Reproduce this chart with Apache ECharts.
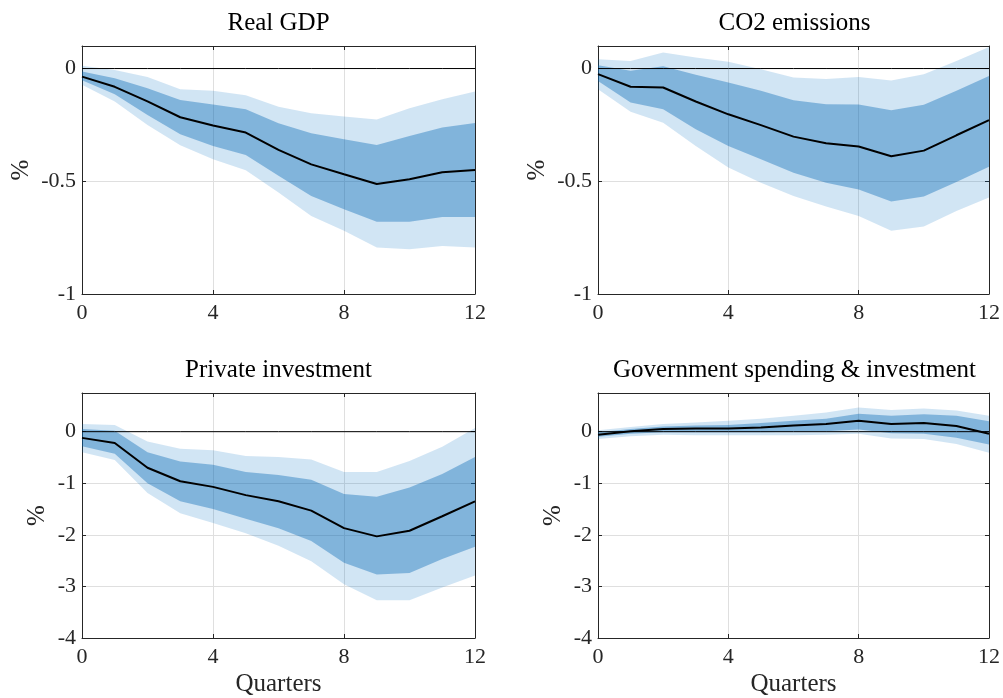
<!DOCTYPE html>
<html>
<head>
<meta charset="utf-8">
<script src="https://cdn.jsdelivr.net/npm/echarts@6/dist/echarts.min.js"></script>
<style>
  html, body { margin: 0; padding: 0; background: #ffffff; }
  #chart { width: 1003px; height: 698px; }
</style>
</head>
<body>
<div id="chart"></div>
<script>
// Horizon in quarters
const quarters = ['0', '1', '2', '3', '4', '5', '6', '7', '8', '9', '10', '11', '12'];

// Real GDP: median response with 68% (inner) and 90% (outer) bands
const gdpMedian     = [-0.036, -0.081, -0.146, -0.216, -0.253, -0.284, -0.361, -0.425, -0.469, -0.512, -0.491, -0.460, -0.450];
const gdpInnerUpper = [-0.013, -0.043, -0.087, -0.139, -0.160, -0.180, -0.243, -0.287, -0.314, -0.339, -0.299, -0.262, -0.241];
const gdpInnerLower = [-0.052, -0.114, -0.206, -0.291, -0.343, -0.383, -0.476, -0.565, -0.624, -0.680, -0.679, -0.658, -0.658];
const gdpOuterUpper = [ 0.012, -0.006, -0.037, -0.092, -0.099, -0.118, -0.170, -0.198, -0.213, -0.226, -0.176, -0.136, -0.102];
const gdpOuterLower = [-0.072, -0.146, -0.250, -0.340, -0.402, -0.451, -0.550, -0.654, -0.720, -0.794, -0.802, -0.787, -0.794];

// CO2 emissions
const co2Median     = [-0.025, -0.081, -0.084, -0.146, -0.203, -0.251, -0.302, -0.331, -0.346, -0.389, -0.364, -0.296, -0.229];
const co2InnerUpper = [ 0.015, -0.010,  0.010, -0.028, -0.062, -0.099, -0.141, -0.158, -0.160, -0.185, -0.161, -0.099, -0.033];
const co2InnerLower = [-0.055, -0.151, -0.180, -0.269, -0.343, -0.402, -0.462, -0.506, -0.536, -0.590, -0.568, -0.503, -0.436];
const co2OuterUpper = [ 0.041,  0.033,  0.071,  0.049,  0.030, -0.003, -0.040, -0.046, -0.037, -0.053, -0.025,  0.034,  0.096];
const co2OuterLower = [-0.092, -0.192, -0.240, -0.343, -0.439, -0.506, -0.565, -0.612, -0.654, -0.720, -0.701, -0.632, -0.572];

// Private investment
const invMedian     = [-0.12, -0.22, -0.70, -0.96, -1.07, -1.23, -1.35, -1.53, -1.87, -2.03, -1.92, -1.64, -1.35];
const invInnerUpper = [ 0.05,  0.02, -0.40, -0.58, -0.64, -0.78, -0.84, -0.93, -1.21, -1.26, -1.08, -0.82, -0.49];
const invInnerLower = [-0.28, -0.43, -1.00, -1.35, -1.50, -1.69, -1.87, -2.12, -2.54, -2.77, -2.74, -2.47, -2.23];
const invOuterUpper = [ 0.15,  0.13, -0.19, -0.33, -0.36, -0.47, -0.49, -0.54, -0.78, -0.78, -0.57, -0.29,  0.07];
const invOuterLower = [-0.40, -0.55, -1.19, -1.58, -1.77, -1.97, -2.21, -2.51, -2.96, -3.27, -3.27, -3.02, -2.79];

// Government spending & investment
const govMedian     = [-0.06,  0.01,  0.05,  0.06,  0.06,  0.08,  0.12,  0.15,  0.21,  0.15,  0.17,  0.11, -0.04];
const govInnerUpper = [-0.01,  0.05,  0.10,  0.12,  0.13,  0.17,  0.21,  0.25,  0.35,  0.31,  0.34,  0.31,  0.20];
const govInnerLower = [-0.10, -0.04, -0.01, -0.01, -0.01, -0.01,  0.00,  0.01,  0.04, -0.03, -0.04, -0.12, -0.25];
const govOuterUpper = [ 0.03,  0.09,  0.15,  0.18,  0.21,  0.25,  0.31,  0.37,  0.47,  0.42,  0.45,  0.41,  0.31];
const govOuterLower = [-0.14, -0.09, -0.06, -0.07, -0.07, -0.07, -0.07, -0.06, -0.04, -0.13, -0.14, -0.24, -0.41];

// Axis tick settings (x ticks every 4 quarters)
const xTickEvery = 4;
const yTicksTop = { min: -1, max: 0.1, step: 0.5 };
const yTicksBottom = { min: -4, max: 0.75, step: 1 };

const FONT = 'Liberation Serif';
const AXIS_COLOR = '#262626';
const GRID_COLOR = '#dfdfdf';
const OUTER_COLOR = 'rgba(0, 112, 192, 0.18)';
const INNER_COLOR = 'rgba(0, 100, 180, 0.38)';
const PLOT_W = 393, PLOT_H = 248;

const panels = [
  { title: 'Real GDP', left: 82, top: 46, y: yTicksTop, nameGap: 48, xName: '',
    median: gdpMedian, innerUpper: gdpInnerUpper, innerLower: gdpInnerLower, outerUpper: gdpOuterUpper, outerLower: gdpOuterLower },
  { title: 'CO2 emissions', left: 598, top: 46, y: yTicksTop, nameGap: 48, xName: '',
    median: co2Median, innerUpper: co2InnerUpper, innerLower: co2InnerLower, outerUpper: co2OuterUpper, outerLower: co2OuterLower },
  { title: 'Private investment', left: 82, top: 393, y: yTicksBottom, nameGap: 32, xName: 'Quarters',
    median: invMedian, innerUpper: invInnerUpper, innerLower: invInnerLower, outerUpper: invOuterUpper, outerLower: invOuterLower },
  { title: 'Government spending & investment', left: 598, top: 393, y: yTicksBottom, nameGap: 32, xName: 'Quarters',
    median: govMedian, innerUpper: govInnerUpper, innerLower: govInnerLower, outerUpper: govOuterUpper, outerLower: govOuterLower }
];

const diffs = (hi, lo) => hi.map((v, i) => v - lo[i]);
const everyFourth = (idx) => idx % xTickEvery === 0;

const option = {
  animation: false,
  backgroundColor: '#ffffff',
  title: [], grid: [], xAxis: [], yAxis: [], series: []
};

panels.forEach((p, k) => {
  option.grid.push({ left: p.left, top: p.top, width: PLOT_W, height: PLOT_H, containLabel: false });

  option.title.push({
    text: p.title, left: p.left + PLOT_W / 2, top: p.top - 35, textAlign: 'center', padding: 0,
    textStyle: { fontFamily: FONT, fontSize: 25, fontWeight: 'normal', color: '#000000' }
  });

  const lineStyle = { show: true, onZero: false, lineStyle: { color: AXIS_COLOR, width: 1 } };
  const xTick = { show: true, inside: true, length: 4, interval: everyFourth, lineStyle: { color: AXIS_COLOR, width: 1 } };
  const yTick = { show: true, inside: true, length: 4, lineStyle: { color: AXIS_COLOR, width: 1 } };

  // bottom x axis (labelled) and top x axis (ticks only)
  option.xAxis.push({
    gridIndex: k, type: 'category', data: quarters, boundaryGap: false, position: 'bottom',
    axisLine: lineStyle, axisTick: xTick,
    axisLabel: { show: true, interval: everyFourth, margin: 8, fontFamily: FONT, fontSize: 22, color: AXIS_COLOR },
    splitLine: { show: true, interval: everyFourth, lineStyle: { color: GRID_COLOR, width: 1 } },
    name: p.xName, nameLocation: 'middle', nameGap: 34,
    nameTextStyle: { fontFamily: FONT, fontSize: 25, color: AXIS_COLOR }
  });
  option.xAxis.push({
    gridIndex: k, type: 'category', data: quarters, boundaryGap: false, position: 'top',
    axisLine: lineStyle, axisTick: xTick, axisLabel: { show: false }, splitLine: { show: false }
  });

  // left y axis (labelled) and right y axis (ticks only)
  option.yAxis.push({
    gridIndex: k, type: 'value', position: 'left', min: p.y.min, max: p.y.max, interval: p.y.step,
    axisLine: lineStyle, axisTick: yTick,
    axisLabel: { show: true, margin: 6, fontFamily: FONT, fontSize: 22, color: AXIS_COLOR, showMaxLabel: false },
    splitLine: { show: true, lineStyle: { color: GRID_COLOR, width: 1 } },
    name: '%', nameLocation: 'middle', nameGap: p.nameGap,
    nameTextStyle: { fontFamily: FONT, fontSize: 25, color: AXIS_COLOR }
  });
  option.yAxis.push({
    gridIndex: k, type: 'value', position: 'right', min: p.y.min, max: p.y.max, interval: p.y.step,
    axisLine: lineStyle, axisTick: yTick,
    axisLabel: { show: false }, splitLine: { show: false }
  });

  const xi = 2 * k, yi = 2 * k;
  const hidden = { opacity: 0, width: 0 };
  const base = { type: 'line', xAxisIndex: xi, yAxisIndex: yi, symbol: 'none', silent: true, stackStrategy: 'all' };

  // outer (90%) band
  option.series.push(Object.assign({}, base, { stack: 'outer' + k, data: p.outerLower, lineStyle: hidden }));
  option.series.push(Object.assign({}, base, { stack: 'outer' + k, data: diffs(p.outerUpper, p.outerLower),
    lineStyle: hidden, areaStyle: { color: OUTER_COLOR, opacity: 1 } }));
  // inner (68%) band
  option.series.push(Object.assign({}, base, { stack: 'inner' + k, data: p.innerLower, lineStyle: hidden }));
  option.series.push(Object.assign({}, base, { stack: 'inner' + k, data: diffs(p.innerUpper, p.innerLower),
    lineStyle: hidden, areaStyle: { color: INNER_COLOR, opacity: 1 } }));
  // zero reference line
  option.series.push({ type: 'line', xAxisIndex: xi, yAxisIndex: yi, symbol: 'none', silent: true,
    data: quarters.map(() => 0), lineStyle: { color: '#000000', width: 1 } });
  // median response
  option.series.push({ type: 'line', xAxisIndex: xi, yAxisIndex: yi, symbol: 'none', silent: true,
    data: p.median, lineStyle: { color: '#000000', width: 2 } });
});

const chart = echarts.init(document.getElementById('chart'), null, { renderer: 'canvas' });
chart.setOption(option);
</script>
</body>
</html>
